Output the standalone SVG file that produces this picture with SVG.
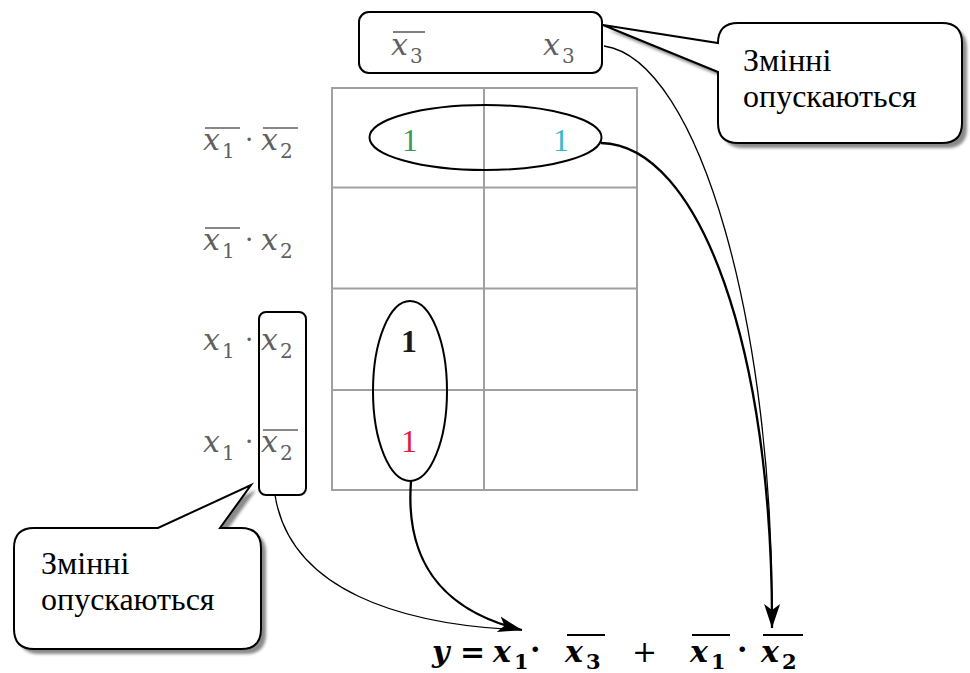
<svg xmlns="http://www.w3.org/2000/svg" width="970" height="673" viewBox="0 0 970 673">
<style>
.grid{stroke:#a0a0a0;stroke-width:2;fill:none}
.bar{stroke:#606060;stroke-width:1.6}
.call{fill:#fff;stroke:#000;stroke-width:2}
.shadow{fill:#8a8a8a}
.fbar{stroke:#000;stroke-width:1.8}
.thin{fill:none;stroke:#000;stroke-width:1.3}
.thick{fill:none;stroke:#000;stroke-width:2.3}
.shape{fill:none;stroke:#000;stroke-width:2}
</style>
<defs>
<marker id="arr" markerUnits="userSpaceOnUse" markerWidth="30" markerHeight="30" refX="24" refY="8" orient="auto" viewBox="0 0 30 16">
<path d="M0,0 L24,8 L0,16 L6,8 Z" fill="#000"/>
</marker>
<filter id="blur" x="-10%" y="-10%" width="130%" height="130%"><feGaussianBlur stdDeviation="1.5"/></filter>
</defs>
<rect width="970" height="673" fill="#fff"/>

<g id="grid">
<rect class="grid" x="332" y="88" width="305" height="402"/>
<line class="grid" x1="484" y1="88" x2="484" y2="490"/>
<line class="grid" x1="332" y1="187.5" x2="637" y2="187.5"/>
<line class="grid" x1="332" y1="288.5" x2="637" y2="288.5"/>
<line class="grid" x1="332" y1="390" x2="637" y2="390"/>
</g>

<g id="row-labels" fill="#606060">
<text style="font-family:'DejaVu Serif',serif;font-style:italic;font-size:30px" x="203" y="150">x</text><text style="font-family:'DejaVu Serif',serif;font-size:20px" x="222" y="158">1</text>
<line class="bar" x1="205" y1="128" x2="240" y2="128"/>
<text style="font-family:'DejaVu Serif',serif;font-size:26px" x="245" y="148">·</text>
<text style="font-family:'DejaVu Serif',serif;font-style:italic;font-size:30px" x="261" y="150">x</text><text style="font-family:'DejaVu Serif',serif;font-size:20px" x="280" y="158">2</text>
<line class="bar" x1="263" y1="128" x2="298" y2="128"/>

<text style="font-family:'DejaVu Serif',serif;font-style:italic;font-size:30px" x="203" y="250">x</text><text style="font-family:'DejaVu Serif',serif;font-size:20px" x="222" y="258">1</text>
<line class="bar" x1="205" y1="228" x2="240" y2="228"/>
<text style="font-family:'DejaVu Serif',serif;font-size:26px" x="245" y="248">·</text>
<text style="font-family:'DejaVu Serif',serif;font-style:italic;font-size:30px" x="261" y="250">x</text><text style="font-family:'DejaVu Serif',serif;font-size:20px" x="280" y="258">2</text>

<text style="font-family:'DejaVu Serif',serif;font-style:italic;font-size:30px" x="203" y="350">x</text><text style="font-family:'DejaVu Serif',serif;font-size:20px" x="222" y="358">1</text>
<text style="font-family:'DejaVu Serif',serif;font-size:26px" x="245" y="348">·</text>
<text style="font-family:'DejaVu Serif',serif;font-style:italic;font-size:30px" x="261" y="350">x</text><text style="font-family:'DejaVu Serif',serif;font-size:20px" x="280" y="358">2</text>

<text style="font-family:'DejaVu Serif',serif;font-style:italic;font-size:30px" x="203" y="452">x</text><text style="font-family:'DejaVu Serif',serif;font-size:20px" x="222" y="460">1</text>
<text style="font-family:'DejaVu Serif',serif;font-size:26px" x="245" y="450">·</text>
<text style="font-family:'DejaVu Serif',serif;font-style:italic;font-size:30px" x="261" y="452">x</text><text style="font-family:'DejaVu Serif',serif;font-size:20px" x="280" y="460">2</text>
<line class="bar" x1="263" y1="430" x2="298" y2="430"/>
</g>

<g id="cells">
<text style="font-family:'Liberation Serif',serif;font-size:32px" text-anchor="middle" x="410" y="151" fill="#3a9a58">1</text>
<text style="font-family:'Liberation Serif',serif;font-size:32px" text-anchor="middle" x="561" y="151" fill="#3ab8d2">1</text>
<text style="font-family:'Liberation Serif',serif;font-size:32px;font-weight:bold" text-anchor="middle" x="409" y="352" fill="#1a1a1a">1</text>
<text style="font-family:'Liberation Serif',serif;font-size:32px" text-anchor="middle" x="409" y="452" fill="#e0203c">1</text>
</g>

<g id="top-vars" fill="#606060">
<rect class="shape" x="359" y="12" width="243" height="61" rx="10"/>
<text style="font-family:'DejaVu Serif',serif;font-style:italic;font-size:30px" x="391" y="55">x</text><text style="font-family:'DejaVu Serif',serif;font-size:20px" x="410" y="63">3</text>
<line class="bar" x1="393" y1="32" x2="425" y2="32"/>
<text style="font-family:'DejaVu Serif',serif;font-style:italic;font-size:30px" x="543" y="55">x</text><text style="font-family:'DejaVu Serif',serif;font-size:20px" x="562" y="63">3</text>
</g>

<g id="top-group">
<ellipse class="shape" cx="485.5" cy="137.5" rx="116" ry="32.5"/>
</g>
<g id="col-group">
<ellipse class="shape" cx="410" cy="391" rx="37" ry="90"/>
</g>
<g id="x2-group">
<rect class="shape" x="259" y="312" width="47" height="183" rx="7"/>
</g>

<g id="callout-top">
<path class="shadow" filter="url(#blur)" transform="translate(5,5)" d="M738,23 H942 Q962,23 962,43 V123 Q962,143 942,143 H738 Q718,143 718,123 V72 L603,25 L718,43 Q718,23 738,23 Z"/>
<path class="call" d="M738,23 H942 Q962,23 962,43 V123 Q962,143 942,143 H738 Q718,143 718,123 V72 L603,25 L718,43 Q718,23 738,23 Z"/>
<text style="font-family:'Liberation Serif',serif;font-size:32px" fill="#000" x="743" y="71">Змінні</text>
<text style="font-family:'Liberation Serif',serif;font-size:32px" fill="#000" x="743" y="107">опускаються</text>
</g>

<g id="callout-bottom">
<path class="shadow" filter="url(#blur)" transform="translate(5,5)" d="M34,528 H158 L251,485 L220,528 H241 Q261,528 261,548 V629 Q261,649 241,649 H34 Q14,649 14,629 V548 Q14,528 34,528 Z"/>
<path class="call" d="M34,528 H158 L251,485 L220,528 H241 Q261,528 261,548 V629 Q261,649 241,649 H34 Q14,649 14,629 V548 Q14,528 34,528 Z"/>
<text style="font-family:'Liberation Serif',serif;font-size:32px" fill="#000" x="41" y="574">Змінні</text>
<text style="font-family:'Liberation Serif',serif;font-size:32px" fill="#000" x="41" y="610">опускаються</text>
</g>

<g id="connectors">
<path class="thin" d="M275,495 C290,590 400,625 522,630"/>
<path class="thick" d="M411,481 C405,560 440,610 522,630" marker-end="url(#arr)"/>
<path class="thin" d="M604,46 C700,60 775,330 772,628"/>
<path class="thick" d="M601,143 C700,145 773,350 772,628" marker-end="url(#arr)"/>
</g>

<g id="formula" fill="#000">
<text style="font-family:'DejaVu Serif',serif;font-size:30px;font-weight:bold;font-style:italic" x="432" y="662">y</text>
<text style="font-family:'DejaVu Serif',serif;font-size:30px;font-weight:bold" x="460" y="662">=</text>
<text style="font-family:'DejaVu Serif',serif;font-size:30px;font-weight:bold;font-style:italic" x="493" y="662">x</text><text style="font-family:'DejaVu Serif',serif;font-size:21px;font-weight:bold" x="514" y="669">1</text>
<text style="font-family:'DejaVu Serif',serif;font-size:30px;font-weight:bold" x="530" y="660">·</text>
<text style="font-family:'DejaVu Serif',serif;font-size:30px;font-weight:bold;font-style:italic" x="565" y="662">x</text><text style="font-family:'DejaVu Serif',serif;font-size:21px;font-weight:bold" x="586" y="669">3</text>
<line class="fbar" x1="567" y1="635" x2="605" y2="635"/>
<text style="font-family:'DejaVu Serif',serif;font-size:30px" x="632" y="662">+</text>
<text style="font-family:'DejaVu Serif',serif;font-size:30px;font-weight:bold;font-style:italic" x="690" y="662">x</text><text style="font-family:'DejaVu Serif',serif;font-size:21px;font-weight:bold" x="711" y="669">1</text>
<line class="fbar" x1="692" y1="635" x2="730" y2="635"/>
<text style="font-family:'DejaVu Serif',serif;font-size:30px;font-weight:bold" x="737" y="660">·</text>
<text style="font-family:'DejaVu Serif',serif;font-size:30px;font-weight:bold;font-style:italic" x="761" y="662">x</text><text style="font-family:'DejaVu Serif',serif;font-size:21px;font-weight:bold" x="782" y="669">2</text>
<line class="fbar" x1="763" y1="635" x2="803" y2="635"/>
</g>
</svg>
